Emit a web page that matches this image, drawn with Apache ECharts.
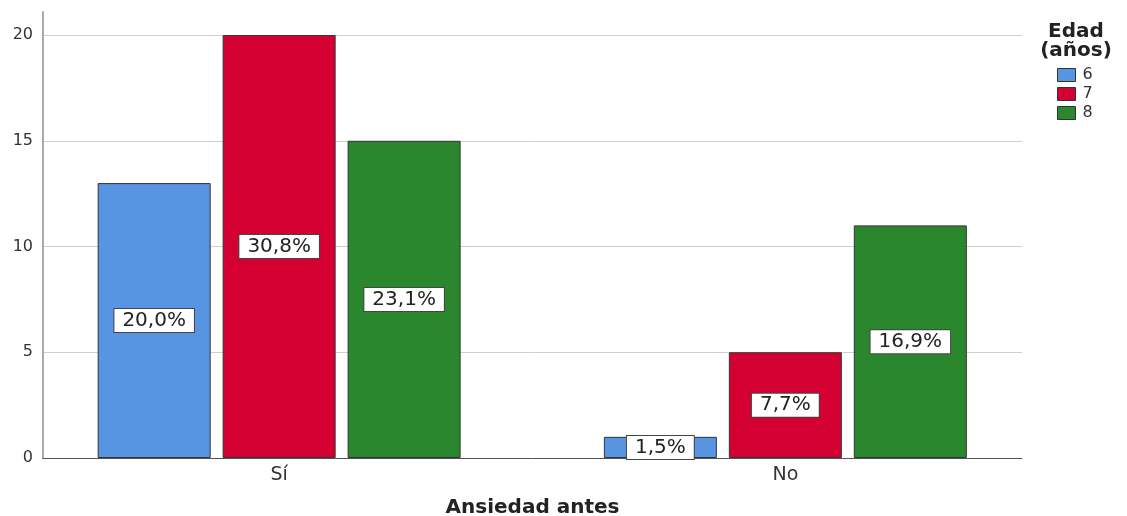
<!DOCTYPE html>
<html><head><meta charset="utf-8">
<script src="https://cdn.jsdelivr.net/npm/echarts@6/dist/echarts.min.js"></script>
<style>html,body{margin:0;padding:0;background:#fff}#c{width:1127px;height:516px}</style>
</head><body><div id="c"></div>
<script>
const categories = ['Sí', 'No'];
const seriesNames = ['6', '7', '8'];
const counts6 = [13, 1];
const counts7 = [20, 5];
const counts8 = [15, 11];
const pct6 = ['20,0%', '1,5%'];
const pct7 = ['30,8%', '7,7%'];
const pct8 = ['23,1%', '16,9%'];
const yTicks = [0, 5, 10, 15, 20];

const colors = ['#5795E3', '#D50032', '#2A872D'];
const FONT = '"DejaVu Sans", "Liberation Sans", Arial, sans-serif';

function mk(name, vals, pcts, color) {
  return {
    name: name, type: 'bar',
    data: vals.map((v, i) => ({ value: [i, v], pct: pcts[i] })),
    barWidth: 113, barGap: '10.6%',
    itemStyle: { color: color, borderColor: '#333', borderWidth: 1 },
    label: {
      show: true, position: 'inside',
      formatter: p => p.data.pct,
      fontFamily: FONT, fontSize: 20, lineHeight: 20, color: '#222',
      backgroundColor: '#fff', borderColor: '#444', borderWidth: 1,
      padding: [2, 8, 1, 8]
    }
  };
}

const chart = echarts.init(document.getElementById('c'));
chart.setOption({
  animation: false,
  textStyle: { fontFamily: FONT },
  grid: { left: 43, right: 105, top: 12, bottom: 58, outerBoundsMode: 'none' },
  title: {
    text: 'Edad\n(años)', left: 1071, top: 17, textAlign: 'center',
    textStyle: { fontFamily: FONT, fontSize: 20, fontWeight: 'bold', color: '#222', lineHeight: 19 }
  },
  legend: {
    orient: 'vertical', left: 1052, top: 62, itemWidth: 18, itemHeight: 13, itemGap: 3,
    icon: 'rect',
    data: seriesNames,
    textStyle: { fontFamily: FONT, fontSize: 16, color: '#333', padding: [0, 0, 0, 2] },
    itemStyle: { borderColor: '#333', borderWidth: 1 }
  },
  xAxis: {
    type: 'value', min: -0.4665, max: 1.4675,
    name: 'Ansiedad antes', nameLocation: 'middle', nameGap: 40,
    nameTextStyle: { fontFamily: FONT, fontSize: 20, fontWeight: 'bold', color: '#222' },
    axisLine: { show: true, onZero: false, lineStyle: { color: '#555', width: 1 } },
    axisTick: { show: false },
    splitLine: { show: false },
    axisLabel: {
      customValues: [0, 1], formatter: v => categories[Math.round(v)] || '',
      fontFamily: FONT, fontSize: 19, color: '#333', margin: 8
    }
  },
  yAxis: {
    type: 'value', min: 0, max: 21.09, interval: 5,
    axisLine: { show: true, onZero: false, lineStyle: { color: '#aaa', width: 2 } },
    axisTick: { show: false },
    axisLabel: {
      fontFamily: FONT, fontSize: 16, color: '#333', margin: 10, showMaxLabel: false,
      formatter: v => yTicks.includes(v) ? String(v) : ''
    },
    splitLine: { show: true, showMaxLine: false, showMinLine: false, lineStyle: { color: '#cfcfcf', width: 1 } }
  },
  series: [
    mk(seriesNames[0], counts6, pct6, colors[0]),
    mk(seriesNames[1], counts7, pct7, colors[1]),
    mk(seriesNames[2], counts8, pct8, colors[2])
  ]
});
</script></body></html>
